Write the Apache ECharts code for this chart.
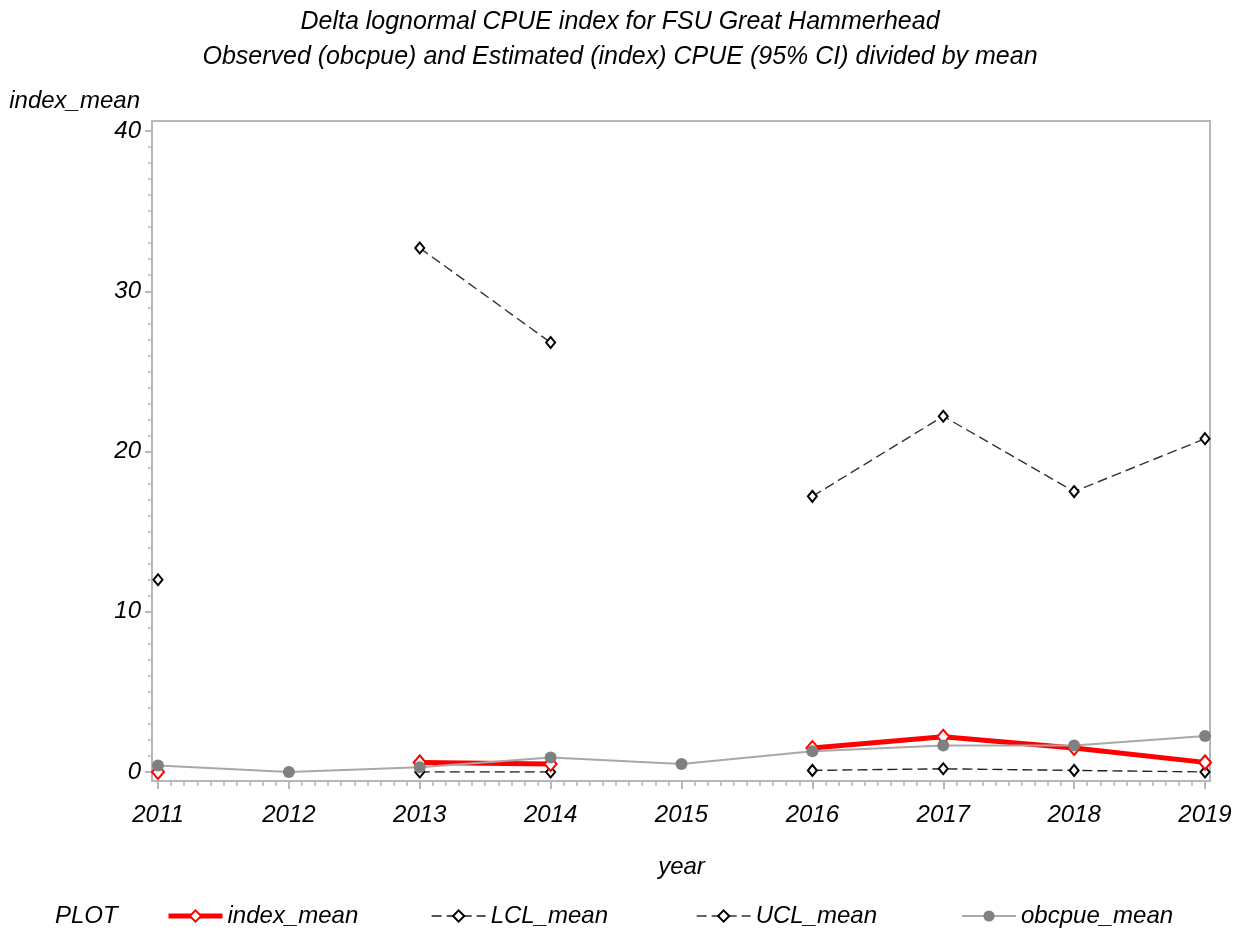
<!DOCTYPE html>
<html>
<head>
<meta charset="utf-8">
<script src="https://cdn.jsdelivr.net/npm/echarts@6/dist/echarts.min.js"></script>
<style>html,body{margin:0;padding:0;background:#fff;}#chart{width:1240px;height:931px;}</style>
</head>
<body>
<div id="chart"></div>
<script>
const years = [2011, 2012, 2013, 2014, 2015, 2016, 2017, 2018, 2019];
const indexMean = [0.0, null, 0.6, 0.5, null, 1.5, 2.2, 1.5, 0.6];
const lclMean = [0.0, null, 0.0, 0.0, null, 0.1, 0.2, 0.1, 0.0];
const uclMean = [12.0, null, 32.7, 26.8, null, 17.2, 22.2, 17.5, 20.8];
const obcpueMean = [0.4, 0.0, 0.3, 0.9, 0.5, 1.3, 1.65, 1.65, 2.25];
const titleLines = ['Delta lognormal CPUE index for FSU Great Hammerhead', 'Observed (obcpue) and Estimated (index) CPUE (95% CI) divided by mean'];

const FONT = '"Liberation Sans", Arial, sans-serif';
const AXC = '#b4b8bc';
const pairs = arr => years.map((y, i) => [y, arr[i]]);
const txt = (size) => ({ fontFamily: FONT, fontStyle: 'italic', fontSize: size, color: '#000' });

const chart = echarts.init(document.getElementById('chart'), null, { renderer: 'canvas' });
const legendBase = (name, left, lw) => ({
  data: [{ name: name, lineStyle: { width: lw } }], left: left, top: 899, itemWidth: 54, itemHeight: 14, itemGap: 0,
  textStyle: Object.assign(txt(24), { padding: [0, 0, 0, 0] }), selectedMode: false
});
chart.setOption({
  backgroundColor: '#fff',
  animation: false,
  title: [{
    text: titleLines[0] + '\n' + titleLines[1], left: 'center', top: 0,
    textStyle: Object.assign(txt(25), { fontWeight: 'normal', lineHeight: 35 })
  }, {
    text: 'PLOT', left: 50, top: 899, textStyle: Object.assign(txt(24), { fontWeight: 'normal' })
  }],
  legend: [
    legendBase('index_mean', 161, 5),
    legendBase('LCL_mean', 426, 1.3),
    legendBase('UCL_mean', 691, 1.3),
    legendBase('obcpue_mean', 956, 2)
  ],
  grid: [
    { left: 158, right: 35, top: 131, bottom: 159 },
    { left: 152, right: 30, top: 121, bottom: 150, show: true, borderColor: AXC, borderWidth: 2, backgroundColor: 'transparent', z: 0 }
  ],
  xAxis: [{
    type: 'value', gridIndex: 0, min: 2011, max: 2019, interval: 1, offset: 9,
    name: 'year', nameLocation: 'middle', nameGap: 74, nameTextStyle: txt(24),
    axisLine: { show: false, onZero: false },
    axisTick: { show: true, length: 8, lineStyle: { color: AXC, width: 2 } },
    minorTick: { show: true, splitNumber: 10, length: 5, lineStyle: { color: AXC, width: 1.5 } },
    splitLine: { show: false },
    axisLabel: Object.assign(txt(24), { margin: 22, formatter: v => String(v) })
  }, {
    type: 'value', gridIndex: 1, show: false, min: 0, max: 1
  }],
  yAxis: [{
    type: 'value', gridIndex: 0, min: 0, max: 40, interval: 10, offset: 6,
    name: 'index_mean', nameLocation: 'end', nameGap: 18,
    nameTextStyle: Object.assign(txt(24), { align: 'right', padding: [0, 12, 0, 0] }),
    axisLine: { show: false, onZero: false },
    axisTick: { show: true, length: 7, lineStyle: { color: AXC, width: 2 } },
    minorTick: { show: true, splitNumber: 10, length: 4, lineStyle: { color: AXC, width: 1.5 } },
    splitLine: { show: false },
    axisLabel: Object.assign(txt(24), { margin: 11 })
  }, {
    type: 'value', gridIndex: 1, show: false, min: 0, max: 1
  }],
  series: [
    {
      name: 'index_mean', type: 'line', xAxisIndex: 0, yAxisIndex: 0, data: pairs(indexMean),
      connectNulls: false, showSymbol: true, showAllSymbol: true,
      symbol: 'emptyDiamond', symbolSize: [12, 14],
      lineStyle: { color: '#ff0000', width: 5 },
      itemStyle: { color: '#ff0000', borderWidth: 1.2 }, z: 3
    },
    {
      name: 'LCL_mean', type: 'line', xAxisIndex: 0, yAxisIndex: 0, data: pairs(lclMean),
      connectNulls: false, showAllSymbol: true,
      symbol: 'emptyDiamond', symbolSize: [9, 11],
      lineStyle: { color: '#222', width: 1.4, type: [10, 5] },
      itemStyle: { color: '#000', borderWidth: 1 }, z: 2
    },
    {
      name: 'UCL_mean', type: 'line', xAxisIndex: 0, yAxisIndex: 0, data: pairs(uclMean),
      connectNulls: false, showAllSymbol: true,
      symbol: 'emptyDiamond', symbolSize: [9, 11],
      lineStyle: { color: '#333', width: 1.4, type: [10, 5] },
      itemStyle: { color: '#000', borderWidth: 1 }, z: 2
    },
    {
      name: 'obcpue_mean', type: 'line', xAxisIndex: 0, yAxisIndex: 0, data: pairs(obcpueMean),
      connectNulls: false, showAllSymbol: true,
      symbol: 'circle', symbolSize: 12,
      lineStyle: { color: '#a8a8a8', width: 2 },
      itemStyle: { color: '#808080' }, z: 4
    }
  ]
});
</script>
</body>
</html>
